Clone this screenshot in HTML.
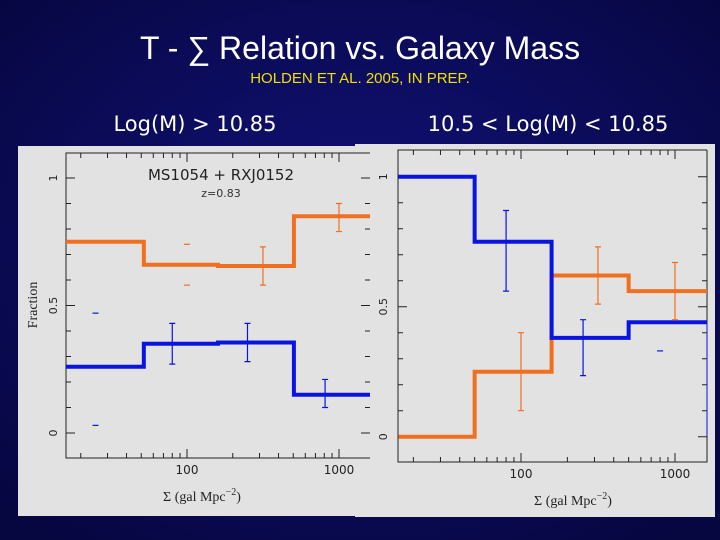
<!DOCTYPE html>
<html><head><meta charset="utf-8"><style>
html,body{margin:0;padding:0;width:720px;height:540px;overflow:hidden;background:#0b0b56;}
svg{display:block}
</style></head><body>
<svg id="s" width="720" height="540" xmlns="http://www.w3.org/2000/svg">
<defs><radialGradient id="bg" cx="50%" cy="45%" r="70%"><stop offset="0" stop-color="#12127a"/><stop offset="1" stop-color="#060640"/></radialGradient></defs>
<rect width="720" height="540" fill="url(#bg)"/>
<text x="360" y="59" text-anchor="middle" font-family="Liberation Sans, DejaVu Sans, sans-serif" font-size="32" fill="#fff">T - ∑ Relation vs. Galaxy Mass</text>
<text x="360" y="83" text-anchor="middle" font-family="Liberation Sans, sans-serif" font-size="15" fill="#f0e000">HOLDEN ET AL. 2005, IN PREP.</text>
<text x="195" y="131" text-anchor="middle" font-family="DejaVu Sans, sans-serif" font-size="21" fill="#fff">Log(M) &gt; 10.85</text>
<text x="548" y="131" text-anchor="middle" font-family="DejaVu Sans, sans-serif" font-size="21" fill="#fff">10.5 &lt; Log(M) &lt; 10.85</text>
<g id="right"></g>
<g id="left"></g>
</svg>
<script>
// Left panel data (Log(M) > 10.85)
const leftEdges = [16, 52, 160, 505, 1600];
const leftRed = [0.75, 0.66, 0.655, 0.85];
const leftBlue = [0.26, 0.35, 0.355, 0.15];
const leftRedErrX = [316, 1000];
const leftRedErrLo = [0.58, 0.79];
const leftRedErrHi = [0.73, 0.90];
const leftRedCapsX = [100];
const leftRedCapsY = [[0.74, 0.58]];
const leftBlueErrX = [80, 250, 810];
const leftBlueErrLo = [0.27, 0.28, 0.10];
const leftBlueErrHi = [0.43, 0.43, 0.21];
const leftBlueCapsX = [25];
const leftBlueCapsY = [[0.47, 0.03]];
// Right panel data (10.5 < Log(M) < 10.85)
const rightEdges = [16, 50, 158, 500, 1620];
const rightRed = [0.0, 0.25, 0.62, 0.56];
const rightBlue = [1.0, 0.75, 0.38, 0.44];
const rightRedErrX = [100, 316, 1000];
const rightRedErrLo = [0.10, 0.51, 0.45];
const rightRedErrHi = [0.40, 0.73, 0.67];
const rightRedCapsX = [];
const rightRedCapsY = [];
const rightBlueErrX = [80, 253];
const rightBlueErrLo = [0.56, 0.235];
const rightBlueErrHi = [0.87, 0.45];
const rightBlueCapsX = [800];
const rightBlueCapsY = [[0.33]];
const yTickLabels = ["0", "0.5", "1"];
const yTickVals = [0, 0.5, 1];
const xTickLabels = ["100", "1000"];
const xTickVals = [100, 1000];

const NS = "http://www.w3.org/2000/svg";
function mk(parent, tag, attrs) {
  const e = document.createElementNS(NS, tag);
  for (const k in attrs) e.setAttribute(k, attrs[k]);
  parent.appendChild(e);
  return e;
}
const RED = "#f07020", BLUE = "#0a14e0";

function panel(g, cfg, d) {
  const L = cfg.L, R = cfg.R, T = cfg.T, B = cfg.B;
  const xs = v => cfg.x100 + (Math.log10(v) - 2) * cfg.dec;
  const ys = v => cfg.y0 - v * cfg.unit;
  let r = mk(g, "rect", {x: cfg.bgx, y: cfg.bgy, width: cfg.bgw, height: cfg.bgh, fill: "#e2e2e2"});
  
  
  let fr = mk(g, "path", {d: `M${R} ${T}H${L}V${B}H${R}` + (cfg.rightFrame ? `V${T}` : ""), fill: "none", stroke: "#222", "stroke-width": 1});
  
  
  // y ticks
  for (let i = 0; i <= 10; i++) {
    const y = ys(i / 10), len = (i % 5 === 0) ? 9 : 5;
    let t = mk(g, "path", {d: `M${L} ${y}h${len}M${cfg.tickR} ${y}h${-len}`, stroke: "#222", "stroke-width": 1});
    
    
  }
  // x ticks
  for (let dec = 10; dec <= 1000; dec *= 10) for (let m = 1; m < 10; m++) {
    const v = dec * m; if (v < 16 || v > 1650) continue;
    const x = xs(v); if (x > cfg.tickR) continue;
    const len = m === 1 ? 9 : 5;
    let t = mk(g, "path", {d: `M${x} ${B}v${-len}M${x} ${T}v${len}`, stroke: "#222", "stroke-width": 1});
    
    
  }
  yTickVals.forEach((v, i) => {
    const t = mk(g, "text", {x: 0, y: 0, transform: `translate(${cfg.ylabX},${ys(v)}) rotate(-90)`, "text-anchor": "middle", "font-family": "DejaVu Sans, sans-serif", "font-size": 11, fill: "#222"});
    t.textContent = yTickLabels[i];
    
    
  });
  xTickVals.forEach((v, i) => {
    const t = mk(g, "text", {x: xs(v), y: B + 16, "text-anchor": "middle", "font-family": "DejaVu Sans, sans-serif", "font-size": 12, fill: "#222"});
    t.textContent = xTickLabels[i];
    
    
  });
  const xt = mk(g, "text", {x: (L + 370) / 2 + cfg.xtOff, y: B + 43, "text-anchor": "middle", "font-family": "Liberation Serif, serif", "font-size": 14, fill: "#222"});
  xt.innerHTML = 'Σ (gal Mpc<tspan dy="-6" font-size="10">−2</tspan><tspan dy="6">)</tspan>';
  
  
  function step(vals, col, name) {
    let p = "";
    vals.forEach((v, i) => {
      const x0 = xs(d.edges[i]), x1 = Math.min(xs(d.edges[i + 1]), cfg.clipR);
      p += (i === 0 ? `M${x0} ${ys(v)}` : `V${ys(v)}`) + `H${x1}`;
    });
    const e = mk(g, "path", {d: p, fill: "none", stroke: col, "stroke-width": 4});
    
    
  }
  function errs(X, lo, hi, capsX, capsY, col, name) {
    X.forEach((v, i) => {
      const x = xs(v);
      const e = mk(g, "path", {d: `M${x} ${ys(lo[i])}V${ys(hi[i])}M${x - 3} ${ys(lo[i])}h6M${x - 3} ${ys(hi[i])}h6`, stroke: col, "stroke-width": 1.2});
      
      
    });
    capsX.forEach((v, i) => {
      const x = xs(v);
      capsY[i].forEach(c => {
        const e = mk(g, "path", {d: `M${x - 3} ${ys(c)}h6`, stroke: col, "stroke-width": 1.2});
        
        
      });
    });
  }
  step(d.red, RED, "red-fraction-step");
  step(d.blue, BLUE, "blue-fraction-step");
  errs(d.rex, d.rlo, d.rhi, d.rcx, d.rcy, RED, "red-error-bar");
  errs(d.bex, d.blo, d.bhi, d.bcx, d.bcy, BLUE, "blue-error-bar");
}

const right = document.getElementById("right");
panel(right, {L: 398, R: 707, T: 150, B: 462, tickR: 707, rightFrame: true, clipR: 707, x100: 521, dec: 154, y0: 436.7, unit: 260, bgx: 355, bgy: 144, bgw: 360, bgh: 373, ylabX: 387, xtOff: 189}, 
  {edges: rightEdges, red: rightRed, blue: rightBlue, rex: rightRedErrX, rlo: rightRedErrLo, rhi: rightRedErrHi, rcx: rightRedCapsX, rcy: rightRedCapsY, bex: rightBlueErrX, blo: rightBlueErrLo, bhi: rightBlueErrHi, bcx: rightBlueCapsX, bcy: rightBlueCapsY});
const bl = mk(right, "path", {d: `M707 ${436.7 - 0.44 * 260}V436.7`, stroke: BLUE, "stroke-width": 1});



const left = document.getElementById("left");
panel(left, {L: 66, R: 370, T: 153, B: 458, tickR: 370, rightFrame: false, clipR: 370, x100: 187, dec: 152, y0: 433, unit: 255, bgx: 18, bgy: 146, bgw: 352, bgh: 370, ylabX: 57, xtOff: -16},
  {edges: leftEdges, red: leftRed, blue: leftBlue, rex: leftRedErrX, rlo: leftRedErrLo, rhi: leftRedErrHi, rcx: leftRedCapsX, rcy: leftRedCapsY, bex: leftBlueErrX, blo: leftBlueErrLo, bhi: leftBlueErrHi, bcx: leftBlueCapsX, bcy: leftBlueCapsY});
const yt = mk(left, "text", {x: 0, y: 0, transform: "translate(37,305) rotate(-90)", "text-anchor": "middle", "font-family": "Liberation Serif, serif", "font-size": 14, fill: "#222"});
yt.textContent = "Fraction";


const t1 = mk(left, "text", {x: 221, y: 180, "text-anchor": "middle", "font-family": "DejaVu Sans, sans-serif", "font-size": 15, fill: "#222"});
t1.textContent = "MS1054 + RXJ0152";


const t2 = mk(left, "text", {x: 221, y: 197, "text-anchor": "middle", "font-family": "DejaVu Sans, sans-serif", "font-size": 11, fill: "#333"});
t2.textContent = "z=0.83";


</script>
</body></html>
